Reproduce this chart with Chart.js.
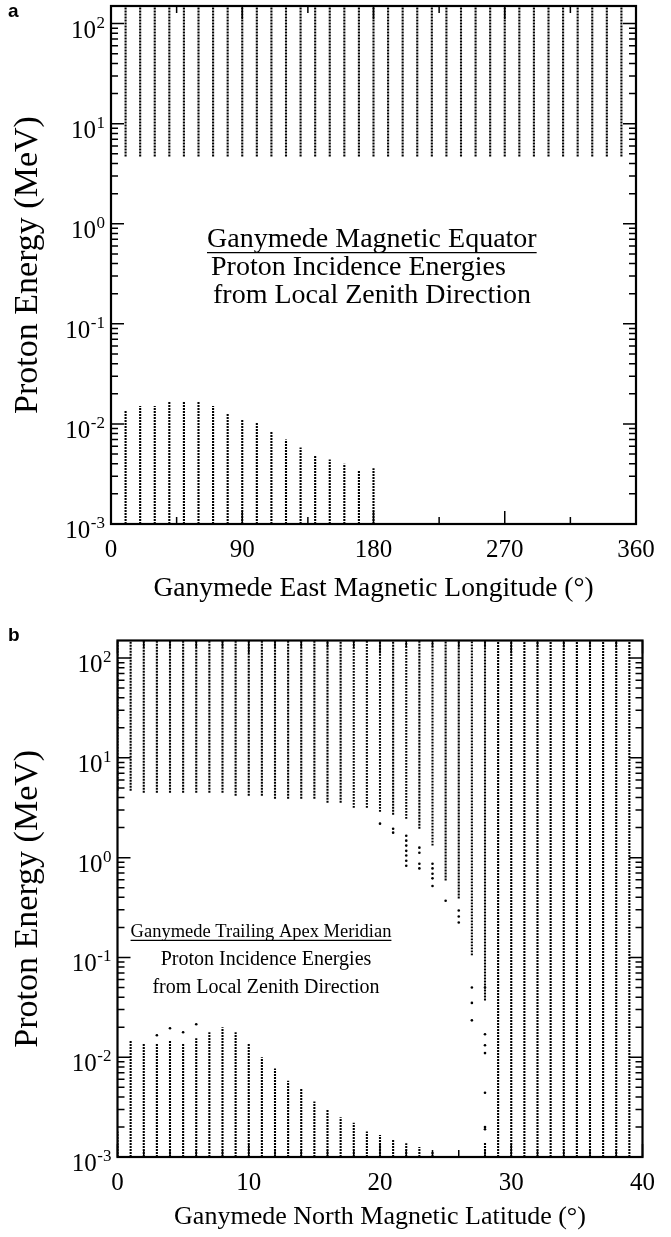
<!DOCTYPE html>
<html><head><meta charset="utf-8">
<script src="https://cdn.jsdelivr.net/npm/chart.js@4/dist/chart.umd.min.js"></script>
<style>
html,body{margin:0;padding:0;background:#fff;}
body{width:671px;height:1237px;position:relative;overflow:hidden;}
canvas{position:absolute;left:0;}
#ca{top:0;} #cb{top:610px;}
</style></head><body>
<canvas id="ca" width="671" height="610"></canvas>
<canvas id="cb" width="671" height="627"></canvas>
<script>
// ---------- shared axis data ----------
const energyTicks = [0.001, 0.01, 0.1, 1, 10, 100];
const energyTickBase = ['10','10','10','10','10','10'];
const energyTickExp = ['-3','-2','-1','0','1','2'];
const energyMin = 0.001;
const energyMax = 150;

// ---------- panel a : magnetic equator ----------
const lonTicksA = [0, 90, 180, 270, 360];
const lonUpperA = [10,20,30,40,50,60,70,80,90,100,110,120,130,140,150,160,170,180,190,200,210,220,230,240,250,260,270,280,290,300,310,320,330,340,350];
const upperMinA = [4.7,4.7,4.7,4.7,4.7,4.7,4.7,4.7,4.7,4.7,4.7,4.7,4.7,4.7,4.7,4.7,4.7,4.7,4.7,4.7,4.7,4.7,4.7,4.7,4.7,4.7,4.7,4.7,4.7,4.7,4.7,4.7,4.7,4.7,4.7];
const lonLowerA = [10,20,30,40,50,60,70,80,90,100,110,120,130,140,150,160,170,180];
const lowerMaxA = [0.0138,0.0151,0.0151,0.0166,0.0166,0.0166,0.0151,0.0126,0.0111,0.0103,0.0084,0.0070,0.0058,0.0049,0.0044,0.0040,0.0034,0.0036];

// ---------- panel b : trailing apex meridian ----------
const latTicksB = [0, 10, 20, 30, 40];
const latUpperB = [0,1,2,3,4,5,6,7,8,9,10,11,12,13,14,15,16,17,18,19,20,21,22,23,24,25,26,27,28,29,30,31,32,33,34,35,36,37,38,39];
const upperMinB = [4.68,4.68,4.47,4.47,4.47,4.47,4.47,4.47,4.47,4.17,4.17,4.17,3.89,3.89,3.89,3.89,3.55,3.55,3.16,3.16,2.88,2.69,2.45,1.95,1.32,0.59,0.39,0.105,0.037,0.001,0.001,0.001,0.001,0.001,0.001,0.001,0.001,0.001,0.001,0.001];
const latLowerB = [0,1,2,3,4,5,6,7,8,9,10,11,12,13,14,15,16,17,18,19,20,21,22,23,24,28];
const lowerMaxB = [0.0018,0.0148,0.0138,0.0138,0.0148,0.0138,0.0155,0.0178,0.0200,0.0178,0.0138,0.0100,0.0077,0.0058,0.0048,0.0036,0.0030,0.0025,0.0022,0.0018,0.00166,0.0015,0.00137,0.00126,0.00115,0.0014];
const isoLatB =    [3,     4,     5,     6,     20,  21,  21,  22,  22,  22,  22,  22,  22,  22,  23,  23,  23,  23,  24,  24,  24,  24,  24,  25,  26,   26,   26,   27,   27,   27,    28,   28,    28,    28,    28,    28,    28];
const isoEnergyB = [0.0166,0.0195,0.0178,0.0214,2.19,1.95,1.78,1.66,1.48,1.32,1.17,1.05,0.93,0.83,1.26,1.12,0.87,0.78,0.87,0.78,0.69,0.62,0.52,0.37,0.295,0.257,0.224,0.050,0.035,0.0234,0.050,0.017,0.0132,0.011,0.0044,0.0020,0.0019];

// ---------- helpers ----------
function bands(xs, lows, highs){
  const pts = [];
  xs.forEach((x,i)=>{
    const lo = Array.isArray(lows) ? lows[i] : lows;
    const hi = Array.isArray(highs) ? highs[i] : highs;
    pts.push({x:x, y:lo}, {x:x, y:hi}, {x:x, y:null});
  });
  return pts;
}
const SERIF = "'Liberation Serif','Times New Roman',Times,serif";
const dotted = {showLine:true, pointRadius:0, borderColor:'#000', borderWidth:2.1, borderDash:[1.9,1.1], borderCapStyle:'butt', spanGaps:false, fill:false};

const frameTicks = {
  id:'frameTicks',
  afterDatasetsDraw(chart, args, o){
    const {ctx} = chart; const {left,right,top,bottom} = chart.chartArea;
    const xs = chart.scales.x, ys = chart.scales.y;
    ctx.save(); ctx.strokeStyle='#000'; ctx.lineWidth=1.5; ctx.beginPath();
    for (let e=-3; e<=2; e++){
      for (let k=1; k<=9; k++){
        const v = k*Math.pow(10,e);
        if (v < ys.min*0.999 || v > ys.max) continue;
        const py = ys.getPixelForValue(v);
        const L = k===1 ? o.major : o.minor;
        ctx.moveTo(left,py); ctx.lineTo(left+L,py);
        ctx.moveTo(right,py); ctx.lineTo(right-L,py);
      }
    }
    for (let v=xs.min; v<=xs.max+1e-9; v+=o.xMinor){
      const px = xs.getPixelForValue(v);
      const r = v/o.xMajor; const L = Math.abs(r-Math.round(r))<1e-6 ? o.major : o.minor;
      ctx.moveTo(px,bottom); ctx.lineTo(px,bottom-L);
      ctx.moveTo(px,top); ctx.lineTo(px,top+L);
    }
    ctx.stroke();
    ctx.lineWidth=2.2; ctx.strokeRect(left,top,right-left,bottom-top);
    // y tick labels: 10 with superscript exponent
    ctx.fillStyle='#000'; ctx.textAlign='right'; ctx.textBaseline='alphabetic';
    energyTicks.forEach((v,i)=>{
      const py = ys.getPixelForValue(v);
      const xr = left - 6;
      ctx.font = '17px ' + SERIF;
      const ew = ctx.measureText(energyTickExp[i]).width;
      ctx.fillText(energyTickExp[i], xr, py + 4);
      ctx.font = '25px ' + SERIF;
      ctx.fillText(energyTickBase[i], xr - ew - 0.5, py + 14);
    });
    ctx.restore();
  }
};
const notes = {
  id:'notes',
  afterDraw(chart, args, o){
    const ctx = chart.ctx; ctx.save(); ctx.fillStyle='#000'; ctx.strokeStyle='#000';
    (o.lines||[]).forEach(l=>{
      ctx.font = (l.bold?'bold ':'') + l.size + 'px ' + (l.family||SERIF);
      ctx.textAlign = l.align||'left'; ctx.textBaseline='middle';
      ctx.fillText(l.text, l.x, l.y);
      if (l.underline){
        const w = ctx.measureText(l.text).width;
        const x0 = l.align==='center' ? l.x - w/2 : l.x;
        ctx.lineWidth=1.2; ctx.beginPath();
        ctx.moveTo(x0, l.y + l.size*0.45); ctx.lineTo(x0+w, l.y + l.size*0.45); ctx.stroke();
      }
    });
    ctx.restore();
  }
};

function makeChart(id, cfg){
  return new Chart(document.getElementById(id), {
    type:'scatter',
    data:{datasets:cfg.datasets},
    options:{
      responsive:false, animation:false, events:[],
      layout:{padding:cfg.pad},
      plugins:{legend:{display:false}, tooltip:{enabled:false},
        frameTicks:cfg.ticks, notes:{lines:cfg.notes}},
      scales:{
        x:{type:'linear', min:cfg.xmin, max:cfg.xmax,
          afterBuildTicks:s=>{ s.ticks = cfg.xTicks.map(v=>({value:v})); },
          grid:{display:false, drawTicks:false}, border:{display:false},
          ticks:{font:{family:SERIF,size:25}, color:'#000', padding:cfg.xTickPad, maxRotation:0, autoSkip:false},
          title:{display:true, text:cfg.xTitle, color:'#000', font:{family:SERIF,size:cfg.xTitleSize}, padding:{top:0,bottom:cfg.xTitlePad}},
          afterFit:s=>{ s.height = cfg.xH; }
        },
        y:{type:'logarithmic', min:energyMin, max:energyMax,
          afterBuildTicks:s=>{ s.ticks = energyTicks.map(v=>({value:v})); },
          grid:{display:false, drawTicks:false}, border:{display:false},
          ticks:{display:false},
          title:{display:true, text:'Proton Energy (MeV)', color:'#000', font:{family:SERIF,size:34}, padding:{top:8,bottom:0}},
          afterFit:s=>{ s.width = cfg.yW; }
        }
      }
    },
    plugins:[frameTicks, notes]
  });
}

makeChart('ca', {
  datasets:[
    Object.assign({data:bands(lonUpperA, upperMinA, energyMax)}, dotted),
    Object.assign({data:bands(lonLowerA, energyMin, lowerMaxA)}, dotted)
  ],
  pad:{top:6,right:35,bottom:0,left:0}, xmin:0, xmax:360, xTicks:lonTicksA,
  xTitle:'Ganymede East Magnetic Longitude (\u00B0)', xTitleSize:27.5, xTickPad:11, xTitlePad:5, xH:86, yW:111,
  ticks:{major:13, minor:7, xMinor:45, xMajor:90},
  notes:[
    {text:'a', x:8, y:12, size:19, bold:true, family:"'Liberation Sans',Arial,sans-serif"},
    {text:'Ganymede Magnetic Equator', x:207, y:240, size:28, underline:true},
    {text:'Proton Incidence Energies', x:211, y:268, size:28},
    {text:'from Local Zenith Direction', x:213, y:296, size:28}
  ]
});

makeChart('cb', {
  datasets:[
    Object.assign({data:bands(latUpperB, upperMinB, energyMax)}, dotted),
    Object.assign({data:bands(latLowerB, energyMin, lowerMaxB)}, dotted),
    {data:isoLatB.map((x,i)=>({x:x, y:isoEnergyB[i]})), showLine:false, pointRadius:1.3, pointBorderWidth:0, backgroundColor:'#000', borderColor:'#000'}
  ],
  pad:{top:30.5,right:28.5,bottom:0,left:0}, xmin:0, xmax:40, xTicks:latTicksB,
  xTitle:'Ganymede North Magnetic Latitude (\u00B0)', xTitleSize:26, xTickPad:11, xTitlePad:4, xH:80, yW:117.5,
  ticks:{major:13, minor:7, xMinor:2, xMajor:10},
  notes:[
    {text:'b', x:8, y:26, size:19, bold:true, family:"'Liberation Sans',Arial,sans-serif"},
    {text:'Ganymede Trailing Apex Meridian', x:261, y:322, size:18.5, align:'center', underline:true},
    {text:'Proton Incidence Energies', x:266, y:350, size:20, align:'center'},
    {text:'from Local Zenith Direction', x:266, y:378, size:20, align:'center'}
  ]
});
</script>
</body></html>
